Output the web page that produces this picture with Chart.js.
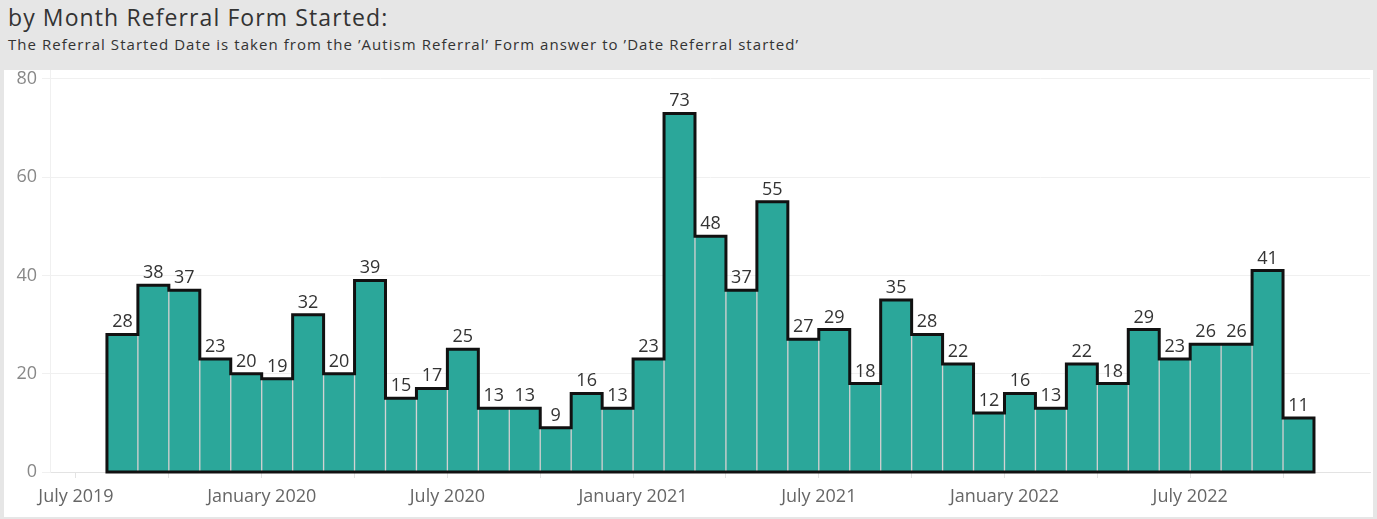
<!DOCTYPE html>
<html>
<head>
<meta charset="utf-8">
<script src="https://cdn.jsdelivr.net/npm/chart.js@4.4.1/dist/chart.umd.min.js"></script>
<style>
  html, body { margin: 0; padding: 0; background: #e6e6e6; }
  body { width: 1377px; height: 519px; position: relative; overflow: hidden; font-family: "Open Sans", sans-serif; }
  #title { position: absolute; left: 8px; top: 1px; font-size: 23px; letter-spacing: 1.1px; color: #333; white-space: nowrap; }
  #subtitle { position: absolute; left: 8px; top: 34px; font-size: 15px; letter-spacing: 1.05px; color: #333; white-space: nowrap; }
  #panel { position: absolute; left: 4px; top: 70px; width: 1369px; height: 447px; background: #fff; }
</style>
</head>
<body>
<div id="title">by Month Referral Form Started:</div>
<div id="subtitle">The Referral Started Date is taken from the ’Autism Referral’ Form answer to ’Date Referral started’</div>
<div id="panel"><canvas id="chart" width="1369" height="447"></canvas></div>
<script>
// months counted from July 2019 (= 0); first bar is August 2019
const firstMonth = 1;
const referrals = [28, 38, 37, 23, 20, 19, 32, 20, 39, 15, 17, 25, 13, 13, 9, 16, 13, 23,
  73, 48, 37, 55, 27, 29, 18, 35, 28, 22, 12, 16, 13, 22, 18, 29, 23, 26, 26, 41, 11];
const quarterTicks = [0, 3, 6, 9, 12, 15, 18, 21, 24, 27, 30, 33, 36, 39];
const labelMonths = [0, 6, 12, 18, 24, 30, 36];
const labelNames = ["July 2019", "January 2020", "July 2020", "January 2021", "July 2021", "January 2022", "July 2022"];
const yTicks = [0, 20, 40, 60, 80];

const points = referrals.map((v, i) => ({ x: firstMonth + i + 0.5, y: v }));

const outlinePlugin = {
  id: "outline",
  afterDatasetsDraw(chart) {
    const bars = chart.getDatasetMeta(0).data;
    const ctx = chart.ctx;
    const base = chart.scales.y.getPixelForValue(0);
    ctx.save();
    ctx.beginPath();
    bars.forEach((b, i) => {
      const left = b.x - b.width / 2, right = b.x + b.width / 2;
      if (i === 0) ctx.moveTo(left, base);
      ctx.lineTo(left, b.y);
      ctx.lineTo(right, b.y);
      if (i === bars.length - 1) ctx.lineTo(right, base);
    });
    ctx.closePath();
    ctx.lineWidth = 3;
    ctx.strokeStyle = "#111";
    ctx.lineJoin = "miter";
    ctx.stroke();

    ctx.font = '18px "Open Sans"';
    ctx.fillStyle = "#333";
    ctx.textAlign = "center";
    ctx.textBaseline = "alphabetic";
    bars.forEach((b, i) => ctx.fillText(String(referrals[i]), b.x, b.y - 7));
    ctx.restore();
  },
};

new Chart(document.getElementById("chart"), {
  type: "bar",
  data: {
    datasets: [{
      data: points,
      backgroundColor: "#2ba79a",
      borderColor: "#cfcfcf",
      borderWidth: 1,
      barPercentage: 1,
      categoryPercentage: 1,
    }],
  },
  plugins: [outlinePlugin],
  options: {
    responsive: false,
    animation: false,
    layout: { padding: { right: 3 } },
    plugins: { legend: { display: false }, tooltip: { enabled: false } },
    scales: {
      x: {
        type: "linear",
        offset: false,
        min: -0.84,
        max: 41.81,
        afterBuildTicks: (axis) => { axis.ticks = quarterTicks.map((v) => ({ value: v })); },
        afterFit: (s) => { s.height = 45; s.paddingLeft = 0; s.paddingRight = 0; },
        ticks: {
          autoSkip: false,
          maxRotation: 0,
          padding: 8,
          color: "#666",
          font: { family: "Open Sans", size: 18 },
          callback: (v) => {
            const k = labelMonths.indexOf(v);
            return k >= 0 ? labelNames[k] : "";
          },
        },
        grid: { drawOnChartArea: false, offset: false, tickLength: 6, color: "#e3e3e3" },
        border: { color: "#e3e3e3" },
      },
      y: {
        min: 0,
        max: 81.83,
        afterBuildTicks: (axis) => { axis.ticks = yTicks.map((v) => ({ value: v })); },
        afterFit: (s) => { s.width = 46; s.paddingTop = 0; s.paddingBottom = 0; },
        ticks: {
          padding: 5,
          color: "#888",
          font: { family: "Open Sans", size: 18 },
        },
        grid: { color: "#f0f0f0", tickLength: 8 },
        border: { color: "#f0f0f0" },
      },
    },
  },
});
</script>
</body>
</html>
